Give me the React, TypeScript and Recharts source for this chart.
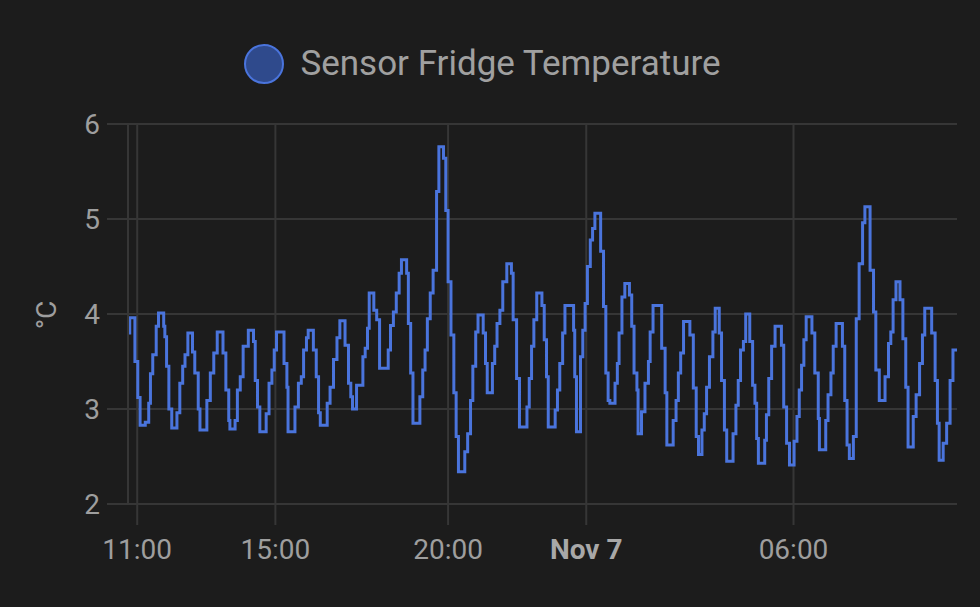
import React from 'react';
import { LineChart, Line, XAxis, YAxis, CartesianGrid, Legend, ReferenceLine } from 'recharts';

// minutes since 10:44 (Nov 6)
const times = [
  0, 3, 12, 17, 21, 30, 36, 39, 43, 49,
  53, 62, 64, 67, 71, 76, 85, 90, 95, 99,
  104, 112, 116, 122, 125, 137, 143, 149, 155, 165,
  170, 175, 177, 186, 190, 195, 200, 209, 218, 221,
  225, 229, 240, 245, 250, 254, 258, 271, 276, 278,
  290, 296, 301, 305, 310, 313, 322, 327, 331, 334,
  346, 351, 357, 363, 368, 377, 383, 387, 390, 397,
  408, 412, 416, 419, 427, 432, 437, 452, 456, 461,
  466, 471, 475, 484, 487, 491, 495, 507, 512, 516,
  520, 525, 530, 536, 540, 548, 552, 556, 561, 566,
  570, 574, 585, 590, 595, 599, 604, 608, 617, 621,
  624, 633, 637, 641, 646, 651, 658, 666, 669, 675,
  680, 693, 697, 701, 705, 710, 719, 723, 727, 730,
  742, 746, 750, 755, 759, 774, 776, 779, 786, 790,
  794, 798, 803, 807, 811, 821, 826, 830, 834, 837,
  846, 850, 853, 858, 863, 871, 875, 879, 884, 886,
  892, 898, 904, 907, 912, 927, 933, 936, 947, 952,
  956, 960, 965, 976, 982, 987, 991, 997, 1001, 1005,
  1010, 1016, 1020, 1027, 1031, 1036, 1040, 1051, 1056, 1060,
  1064, 1069, 1073, 1080, 1085, 1089, 1092, 1095, 1106, 1109,
  1113, 1118, 1124, 1135, 1139, 1144, 1149, 1157, 1162, 1166,
  1170, 1174, 1178, 1188, 1193, 1199, 1201, 1212, 1216, 1221,
  1225, 1230, 1241, 1245, 1249, 1253, 1260, 1265, 1270, 1276,
  1280, 1289, 1295, 1299, 1305, 1315, 1321, 1325, 1329, 1334,
  1341, 1346, 1351, 1355, 1364, 1369, 1375, 1380, 1384, 1396,
  1402, 1406, 1409, 1416, 1422, 1428, 1433, 1440,
];

const temps = [
  3.80, 3.96, 3.50, 3.12, 2.83, 2.86, 3.06, 3.37, 3.57, 3.87,
  4.01, 3.87, 3.76, 3.45, 3.00, 2.80, 2.96, 3.27, 3.45, 3.57,
  3.80, 3.60, 3.38, 3.00, 2.78, 3.09, 3.38, 3.59, 3.81, 3.59,
  3.20, 2.88, 2.79, 2.88, 3.20, 3.34, 3.66, 3.83, 3.71, 3.30,
  3.02, 2.76, 2.95, 3.27, 3.41, 3.62, 3.81, 3.48, 3.23, 2.76,
  3.02, 3.27, 3.34, 3.62, 3.75, 3.83, 3.62, 3.34, 2.96, 2.83,
  3.06, 3.23, 3.52, 3.75, 3.93, 3.67, 3.27, 3.13, 3.00, 3.25,
  3.55, 3.64, 3.85, 4.22, 4.04, 3.94, 3.43, 3.62, 3.88, 4.02,
  4.22, 4.43, 4.57, 4.43, 3.90, 3.38, 2.85, 3.13, 3.41, 3.62,
  3.95, 4.22, 4.46, 5.29, 5.76, 5.64, 5.09, 4.34, 3.78, 3.17,
  2.71, 2.34, 2.55, 2.74, 3.09, 3.45, 3.81, 3.99, 3.80, 3.48,
  3.17, 3.48, 3.66, 3.90, 4.04, 4.34, 4.53, 4.43, 3.94, 3.32,
  2.81, 3.02, 3.32, 3.66, 3.94, 4.22, 4.09, 3.73, 3.34, 2.81,
  2.99, 3.20, 3.48, 3.80, 4.09, 3.83, 3.34, 2.76, 3.55, 3.83,
  4.11, 4.50, 4.78, 4.90, 5.06, 4.66, 4.08, 3.38, 3.09, 3.06,
  3.27, 3.48, 3.80, 4.18, 4.32, 4.20, 3.87, 3.38, 3.20, 2.74,
  2.97, 3.27, 3.50, 3.81, 4.09, 3.64, 3.17, 2.62, 2.88, 3.09,
  3.38, 3.59, 3.92, 3.78, 3.22, 2.71, 2.52, 2.78, 2.95, 3.23,
  3.55, 3.81, 4.06, 3.80, 3.30, 2.78, 2.45, 2.74, 3.04, 3.30,
  3.62, 3.71, 4.00, 3.71, 3.25, 3.06, 2.69, 2.43, 2.67, 2.94,
  3.32, 3.66, 3.87, 3.67, 3.02, 2.64, 2.41, 2.66, 2.92, 3.20,
  3.46, 3.73, 3.97, 3.80, 3.38, 2.90, 2.57, 2.88, 3.15, 3.38,
  3.66, 3.90, 3.66, 3.09, 2.62, 2.48, 2.71, 3.95, 4.53, 4.96,
  5.13, 4.46, 4.02, 3.41, 3.09, 3.34, 3.69, 3.81, 4.15, 4.34,
  4.15, 3.74, 3.23, 2.60, 2.92, 3.15, 3.48, 3.78, 4.06, 3.80,
  3.30, 2.85, 2.46, 2.64, 2.85, 3.30, 3.62, 3.62,
];

const tickTimes = [16, 256, 556, 796, 1156];
const tickLabels = ['11:00', '15:00', '20:00', 'Nov 7', '06:00'];
const yTicks = [2, 3, 4, 5, 6];
const seriesName = 'Sensor Fridge Temperature';
const unitLabel = '°C';

const data = times.map((t, i) => ({ t, v: temps[i] }));

const BG = '#1c1c1c';
const GRID = '#363636';
const TEXT = '#9e9e9e';
const LINE = '#4a74dc';
const FONT = 'Roboto, "Noto Sans", sans-serif';

const XTick = (props: any) => {
  const { x, y, payload } = props;
  const idx = tickTimes.indexOf(payload.value);
  const label = idx >= 0 ? tickLabels[idx] : '';
  const bold = label === 'Nov 7';
  return (
    <text
      x={x}
      y={y}
      dy="0.71em"
      textAnchor="middle"
      fill={bold ? '#a8a8a8' : TEXT}
      fontSize={28}
      fontFamily={FONT}
      fontWeight={bold ? 700 : 400}
    >
      {label}
    </text>
  );
};

const YLabel = (props: any) => {
  const vb = props.viewBox || { x: 0, y: 124, width: 128, height: 380 };
  const cx = vb.x + 46;
  const cy = vb.y + vb.height / 2 + 1;
  return (
    <text
      x={cx}
      y={cy}
      transform={`rotate(-90 ${cx} ${cy})`}
      textAnchor="middle"
      dominantBaseline="central"
      fill={TEXT}
      fontSize={28}
      fontFamily={FONT}
    >
      {unitLabel}
    </text>
  );
};

const renderLegend = (props: any) => {
  const item = (props.payload && props.payload[0]) || { value: seriesName };
  return (
    <div
      style={{
        height: 124,
        display: 'flex',
        justifyContent: 'center',
        alignItems: 'flex-start',
        paddingTop: 44,
        paddingLeft: 8,
        boxSizing: 'border-box',
      }}
    >
      <span
        style={{
          width: 40,
          height: 40,
          borderRadius: '50%',
          border: `2px solid ${LINE}`,
          background: '#2f4a8c',
          boxSizing: 'border-box',
          display: 'inline-block',
          marginRight: 16,
          flex: '0 0 auto',
        }}
      />
      <span
        style={{
          fontFamily: FONT,
          fontSize: 35,
          lineHeight: '40px',
          color: '#a0a0a0',
          whiteSpace: 'nowrap',
        }}
      >
        {item.value}
      </span>
    </div>
  );
};

export default function App() {
  return (
    <div style={{ width: 980, height: 607, background: BG }}>
      <style>{`html,body{margin:0;padding:0;background:${BG};}`}</style>
      <LineChart
        width={980}
        height={607}
        data={data}
        margin={{ top: 0, right: 23, bottom: 0, left: 0 }}
      >
        <CartesianGrid stroke={GRID} strokeWidth={2} vertical={false} />
        {tickTimes.map((t) => (
          <ReferenceLine key={t} x={t} stroke={GRID} strokeWidth={2} />
        ))}
        <XAxis
          type="number"
          dataKey="t"
          domain={[0, 1440]}
          ticks={tickTimes}
          interval={0}
          height={103}
          tickSize={21}
          tickMargin={14}
          axisLine={false}
          tickLine={{ stroke: GRID, strokeWidth: 2 }}
          tick={<XTick />}
          allowDataOverflow
        />
        <YAxis
          type="number"
          domain={[2, 6]}
          ticks={yTicks}
          interval={0}
          width={128}
          tickSize={21}
          tickMargin={7}
          axisLine={{ stroke: GRID, strokeWidth: 2 }}
          tickLine={{ stroke: GRID, strokeWidth: 2 }}
          tick={{ fill: TEXT, fontSize: 28, fontFamily: FONT }}
          label={<YLabel />}
        />
        <Legend verticalAlign="top" align="center" content={renderLegend} />
        <Line
          type="stepAfter"
          dataKey="v"
          name={seriesName}
          stroke={LINE}
          strokeWidth={3}
          dot={false}
          activeDot={false}
          isAnimationActive={false}
        />
      </LineChart>
    </div>
  );
}
